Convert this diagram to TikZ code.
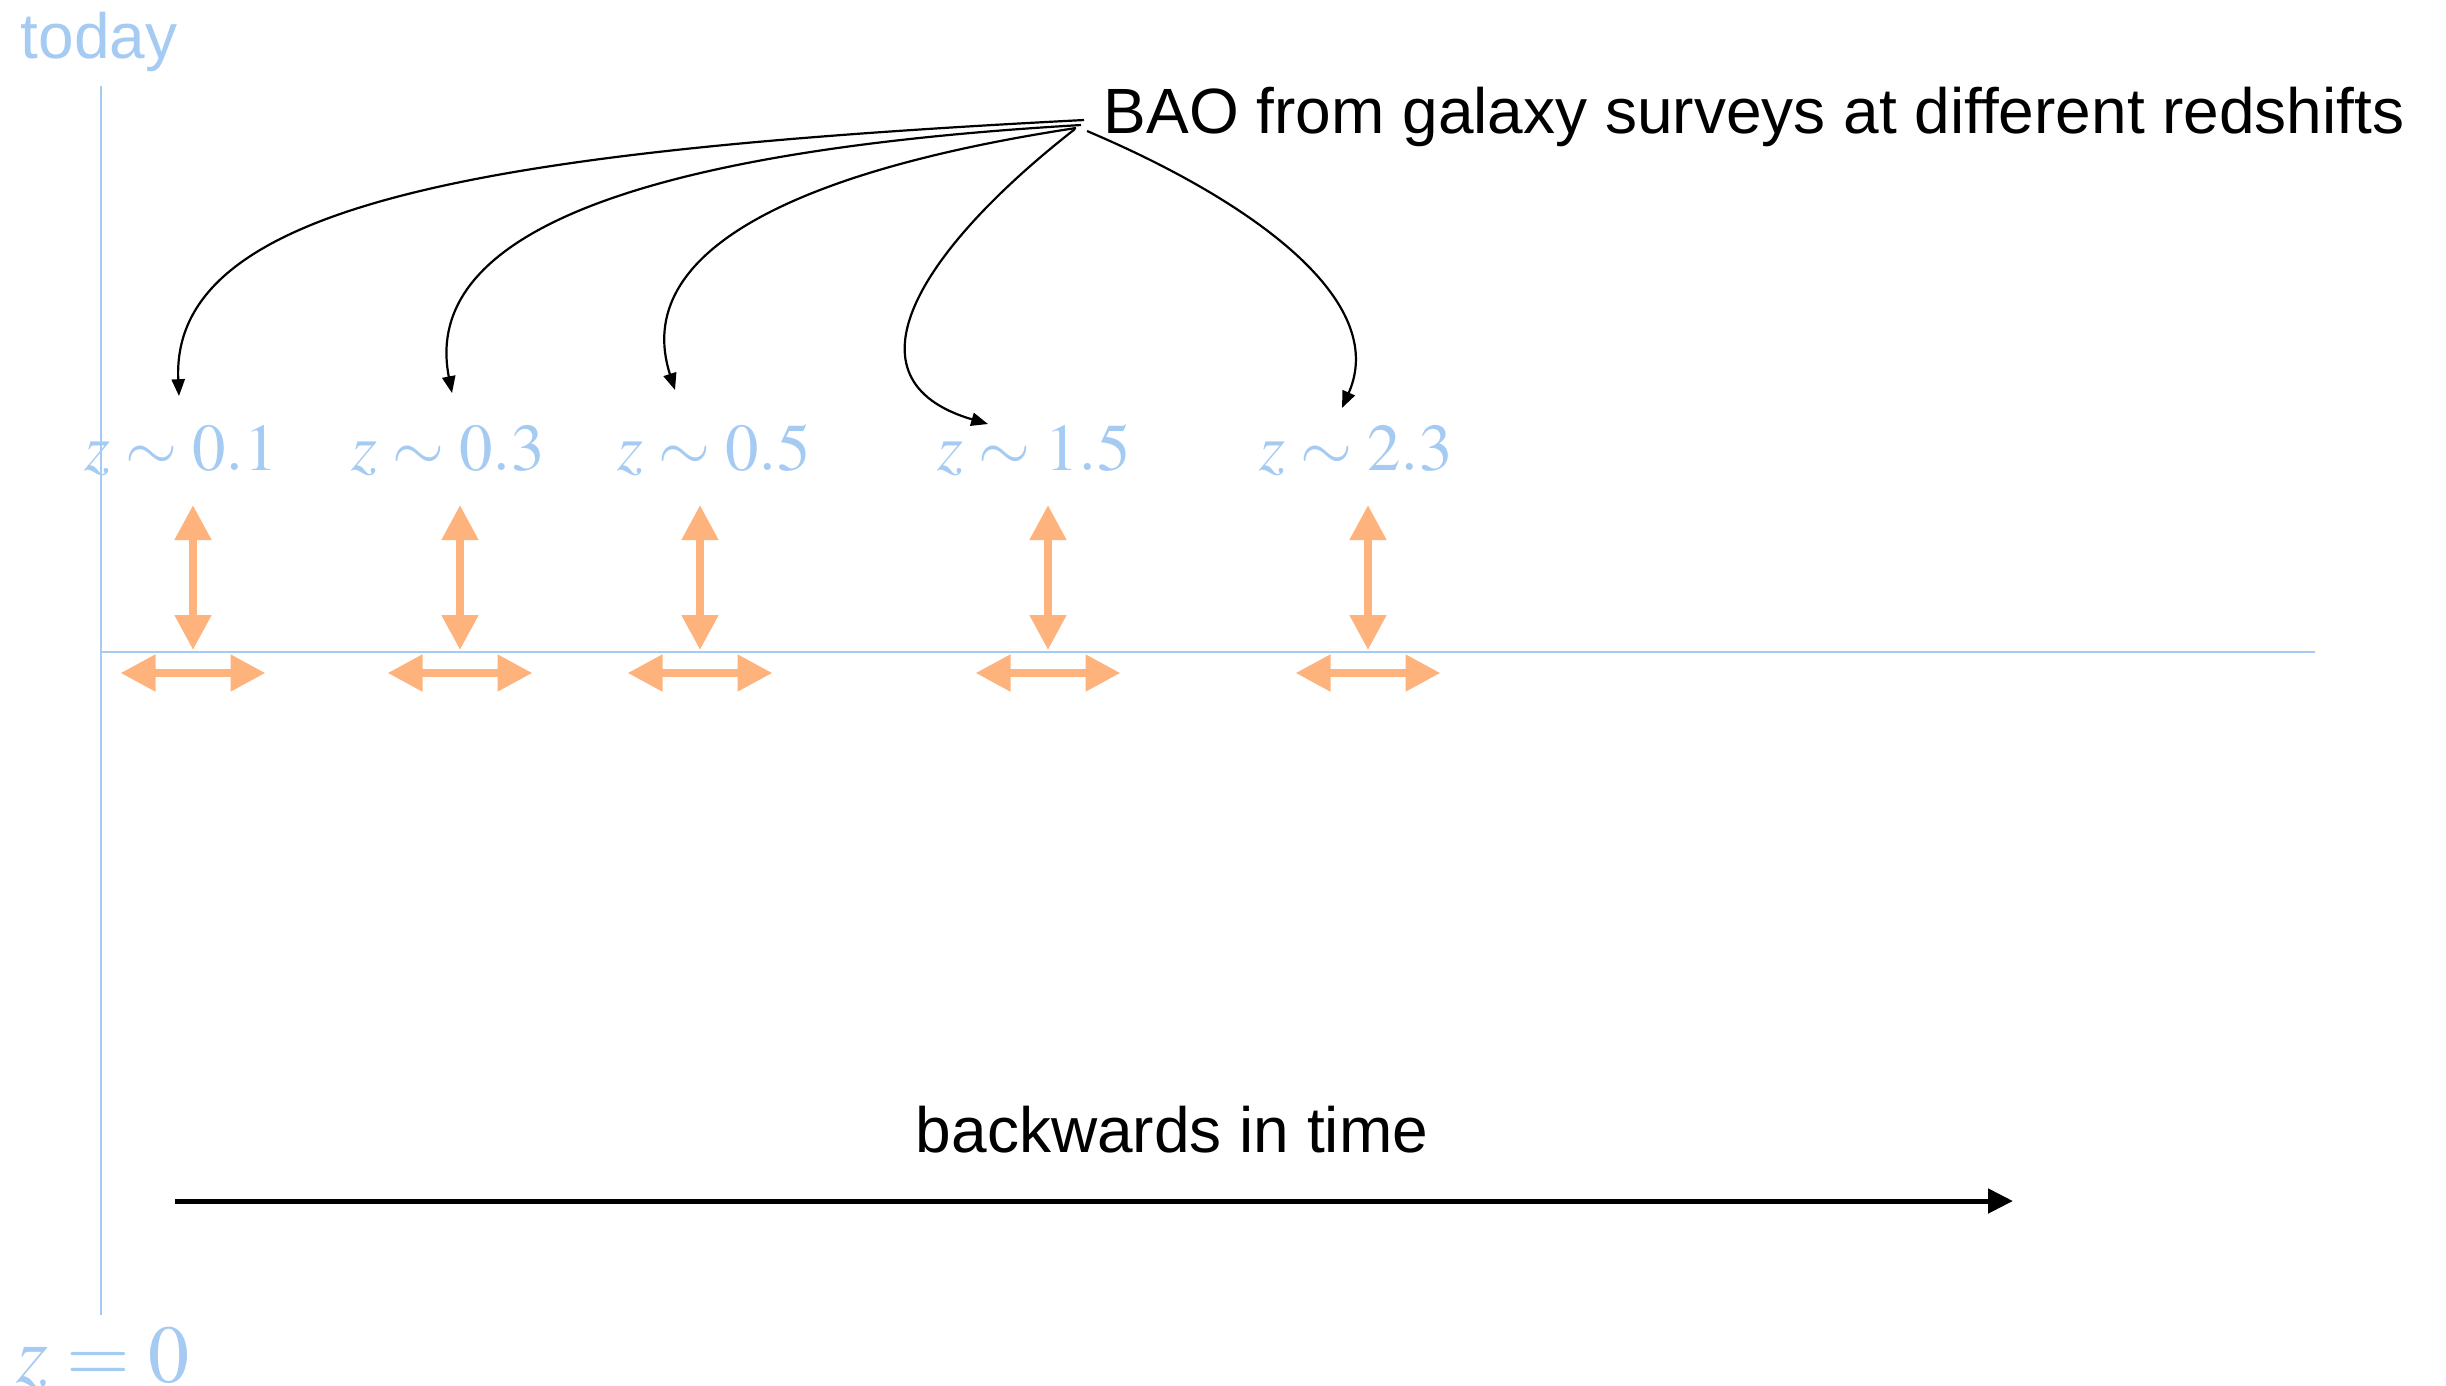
\documentclass[tikz,border=0pt]{standalone}
\usepackage{mathptmx}
\usepackage[no-math]{fontspec}
\setmainfont{Liberation Sans}
\usetikzlibrary{arrows.meta,calc}
\definecolor{axisblue}{RGB}{165,203,243}
\definecolor{baoorange}{RGB}{254,178,124}
\begin{document}
\begin{tikzpicture}[x=0.25pt,y=-0.25pt,
  txt/.style={inner sep=0pt, font=\fontsize{16}{19}\selectfont},
  zlab/.style={inner sep=0pt, text=axisblue, font=\fontsize{16.7}{20}\selectfont, anchor=base},
  axisline/.style={draw=axisblue, line width=0.65pt},
  baoarrow/.style={-{Triangle[length=4.2pt,width=3.3pt]}, line width=0.55pt},
  dbl/.style={{Triangle[length=8.75pt,width=8.75pt]}-{Triangle[length=8.75pt,width=8.75pt]}, draw=baoorange, line width=2pt},
  timearrow/.style={-{Triangle[length=6.25pt,width=6pt]}, line width=1.25pt}]
\useasboundingbox (0,0) rectangle (2446,1385);

% axes
\coordinate (ytop) at (101,86);
\coordinate (ybot) at (101,1315);
\coordinate (xend) at (2315,652);
\draw[axisline] (ytop) -- (ybot);
\draw[axisline] (101,652) -- (xend);

\node[txt, text=axisblue, anchor=base west] (today) at (20,58) {today};
\node[inner sep=0pt, text=axisblue, anchor=base west, font=\fontsize{20.5}{24}\selectfont] (zzero) at (16,1382) {$z=0$};

% redshift labels
\node[zlab] (l01) at (181,470) {$z\sim0.1$};
\node[zlab] (l03) at (448,470) {$z\sim0.3$};
\node[zlab] (l05) at (714,470) {$z\sim0.5$};
\node[zlab] (l15) at (1034,470) {$z\sim1.5$};
\node[zlab] (l23) at (1356,470) {$z\sim2.3$};

% orange double arrows
\foreach \x in {193,460,700,1048,1368}{
  \draw[dbl] (\x,505) -- (\x,650);
  \draw[dbl] (\x-72.5,673) -- (\x+72.5,673);
}

% BAO label and curved arrows
\node[txt, anchor=base west] (bao) at (1103,133) {BAO from galaxy surveys at different redshifts};
\draw[baoarrow] ($(bao.base west)+(-19,-13)$) .. controls +(-584,30) and +(-9,-196) .. ($(l01.base)+(-2,-74)$);
\draw[baoarrow] ($(bao.base west)+(-22,-8)$) .. controls +(-431,25) and +(-32,-163) .. ($(l03.base)+(4,-77)$);
\draw[baoarrow] ($(bao.base west)+(-27,-5)$) .. controls +(-276,42) and +(-45,-140) .. ($(l05.base)+(-39,-80)$);
\draw[baoarrow] ($(bao.base west)+(-28,-4)$) .. controls +(-155,121) and +(-150,-44) .. ($(l15.base)+(-46,-46)$);
\draw[baoarrow] ($(bao.base west)+(-16,-2)$) .. controls +(163,69) and +(48,-108) .. ($(l23.base)+(-14,-62)$);

% backwards in time
\node[txt, anchor=base] (back) at (1172,1152) {backwards in time};
\coordinate (bt1) at (175,1201);
\coordinate (bt2) at (2013,1201);
\draw[timearrow] (bt1) -- (bt2);
\end{tikzpicture}
\end{document}
